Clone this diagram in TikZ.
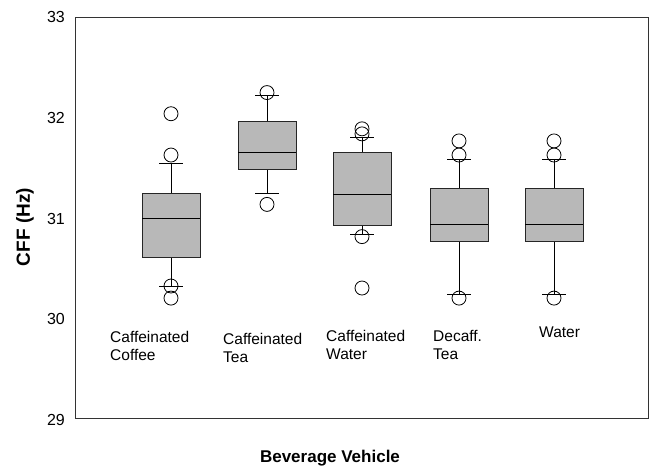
\documentclass[tikz,border=0pt]{standalone}
\usepackage{fontspec}
\setmainfont{Liberation Sans}
\tikzset{
  frame/.style={draw=black!80, line width=0.9pt},
  bxbody/.style={draw=black!85, line width=0.9pt, fill=black!28},
  whisk/.style={draw=black, line width=0.8pt},
  outl/.style={draw=black, line width=0.8pt, fill=none},
  ticklab/.style={anchor=east, font=\fontsize{16}{19}\selectfont, inner sep=0pt},
  catlab/.style={anchor=north west, align=left, font=\fontsize{15.5}{18}\selectfont, inner sep=0pt},
  axtitle/.style={font=\bfseries\fontsize{17}{20}\selectfont, inner sep=0pt},
  ytitlestyle/.style={font=\bfseries\fontsize{19}{22}\selectfont, inner sep=0pt, rotate=90}
}
\newcommand{\bxplot}[6]{%
  % #1 x, #2 q1, #3 median, #4 q3, #5 lower whisker, #6 upper whisker
  \draw[whisk] (#1,#5) -- (#1,#2);
  \draw[whisk] (#1,#4) -- (#1,#6);
  \draw[whisk] ([xshift=-12pt]#1,#5) -- ([xshift=12pt]#1,#5);
  \draw[whisk] ([xshift=-12pt]#1,#6) -- ([xshift=12pt]#1,#6);
  \draw[bxbody] ([xshift=-29pt]#1,#2) rectangle ([xshift=29pt]#1,#4);
  \draw[whisk] ([xshift=-29pt]#1,#3) -- ([xshift=29pt]#1,#3);
}
\newcommand{\outpt}[2]{\draw[outl] (#1,#2) circle[radius=7pt];}
\begin{document}
\begin{tikzpicture}[x=1pt,y=1pt]
\useasboundingbox (0,0) rectangle (652,472);
% plot frame
\draw[frame] (75,54) rectangle (648,455);
\begin{scope}[y=100.75pt, yshift=-2869.75pt]
  \node[ticklab] (t33) at (65,33) {33};
  \node[ticklab] (t32) at (65,32) {32};
  \node[ticklab] (t31) at (65,31) {31};
  \node[ticklab] (t30) at (65,30) {30};
  \node[ticklab] (t29) at (65,29) {29};
  % Caffeinated Coffee
  \bxplot{171}{30.61}{31.0}{31.25}{30.33}{31.55}
  \outpt{171}{32.04}\outpt{171}{31.63}\outpt{171}{30.33}\outpt{171}{30.21}
  % Caffeinated Tea
  \bxplot{267}{31.49}{31.66}{31.96}{31.25}{32.22}
  \outpt{267}{32.25}\outpt{267}{31.14}
  % Caffeinated Water
  \bxplot{362}{30.93}{31.24}{31.66}{30.84}{31.80}
  \outpt{362}{31.89}\outpt{362}{31.84}\outpt{362}{30.82}\outpt{362}{30.31}
  % Decaff. Tea
  \bxplot{459}{30.77}{30.94}{31.30}{30.25}{31.59}
  \outpt{459}{31.77}\outpt{459}{31.63}\outpt{459}{30.21}
  % Water
  \bxplot{554}{30.77}{30.94}{31.30}{30.25}{31.59}
  \outpt{554}{31.77}\outpt{554}{31.63}\outpt{554}{30.21}
\end{scope}
% category labels
\node[catlab] (c1) at (110,141) {Caffeinated\\Coffee};
\node[catlab] (c2) at (223,139) {Caffeinated\\Tea};
\node[catlab] (c3) at (326,142) {Caffeinated\\Water};
\node[catlab] (c4) at (433,142) {Decaff.\\Tea};
\node[catlab] (c5) at (539,145) {Water};
% axis titles
\node[ytitlestyle] (ytitle) at (25,245) {CFF (Hz)};
\node[axtitle] (xtitle) at (330,14) {Beverage Vehicle};
\end{tikzpicture}
\end{document}
